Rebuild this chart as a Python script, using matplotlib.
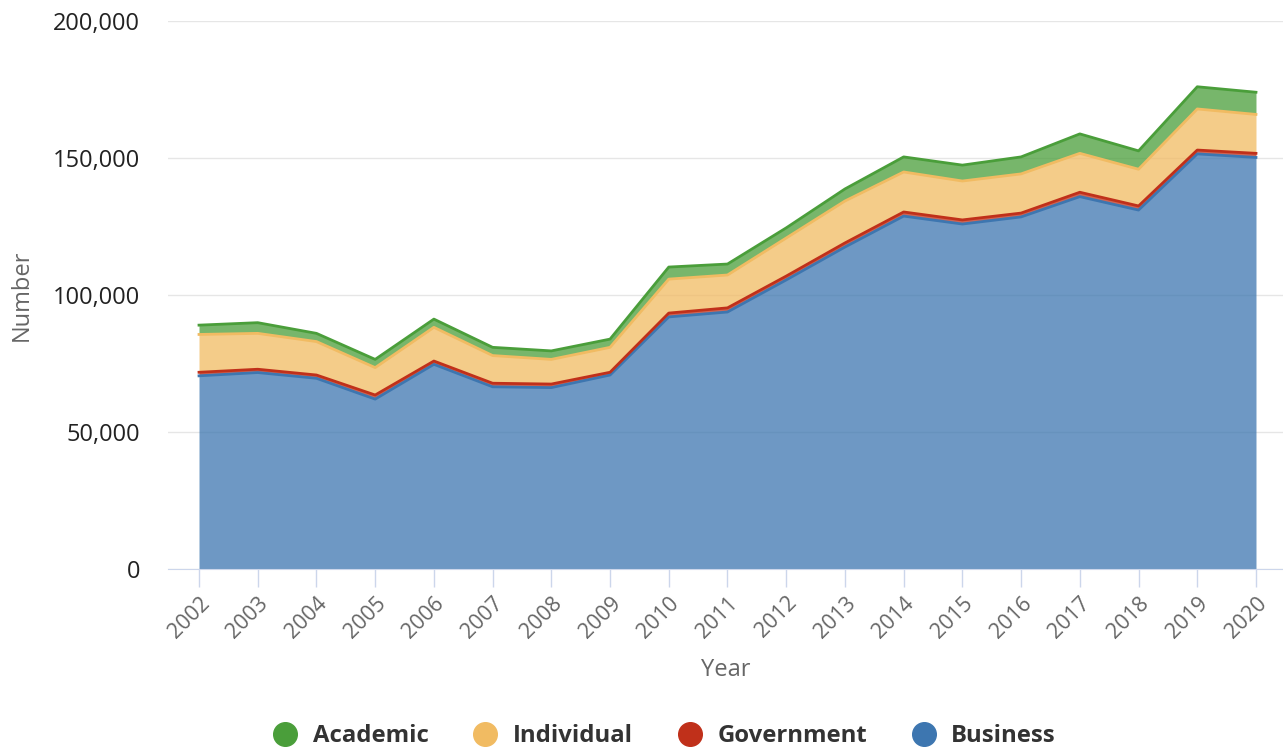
import numpy as np
import matplotlib.pyplot as plt
from matplotlib.lines import Line2D
from matplotlib.ticker import FuncFormatter

plt.rcParams['font.family'] = ['Open Sans', 'DejaVu Sans']

years = np.arange(2002, 2021)
business = [70500, 71700, 69600, 62000, 74700, 66500, 66200, 70800, 92000, 93800,
            105500, 117500, 128800, 125900, 128500, 135900, 131000, 151500, 150200]
government = [1300, 1200, 1200, 1500, 1200, 1300, 1300, 1000, 1400, 1500,
              1400, 1500, 1500, 1500, 1400, 1600, 1500, 1400, 1500]
individual = [13800, 13100, 12200, 10000, 12300, 10100, 9000, 9100, 12400, 12000,
              13900, 15300, 14600, 14200, 14300, 14200, 13400, 15000, 14200]
academic = [3400, 3900, 3000, 3000, 3000, 3000, 3100, 3000, 4400, 4000,
            3700, 4400, 5500, 5800, 6200, 7100, 6700, 8100, 8100]

names = ['Business', 'Government', 'Individual', 'Academic']
colors = ['#3d76b0', '#c0301a', '#f1bb62', '#4a9e3a']

fig = plt.figure(figsize=(12.83, 7.51), dpi=100)
ax = fig.add_axes([168/1283, 182/751, 1115/1283, 548/751])

# stacked areas, bottom series first
base = np.zeros(len(years))
tops = []
for vals, c in zip([business, government, individual, academic], colors):
    top = base + np.array(vals)
    ax.fill_between(years, base, top, color=c, alpha=0.75, lw=0, zorder=2)
    tops.append(top)
    base = top
for top, c in zip(tops, colors):
    ax.plot(years, top, color=c, lw=2, zorder=3)

ax.set_xlim(2001.472, 2020.46)
ax.set_ylim(0, 200000)
ax.set_yticks([0, 50000, 100000, 150000, 200000])
ax.yaxis.set_major_formatter(FuncFormatter(lambda v, p: f'{int(v):,}'))
ax.set_xticks(years)
ax.set_xticklabels([str(y) for y in years], rotation=45, ha='right',
                   va='top', rotation_mode='anchor', color='#666666', fontsize=15.5)

ax.grid(axis='y', color='#e6e6e6', lw=1)
ax.set_axisbelow(True)
for s in ['top', 'right', 'left']:
    ax.spines[s].set_visible(False)
ax.spines['bottom'].set_color('#ccd6eb')
ax.spines['bottom'].set_zorder(4)
ax.tick_params(axis='y', length=0, pad=20, labelsize=17, labelcolor='#222222')
ax.tick_params(axis='x', length=13, width=1, color='#ccd6eb', pad=4)

ax.set_xlabel('Year', fontsize=17, color='#666666', labelpad=11)
ax.set_ylabel('Number', fontsize=17, color='#666666', labelpad=14)

handles = [Line2D([], [], marker='o', ls='', markersize=17, color=c)
           for c in colors[::-1]]
fig.legend(handles, names[::-1], loc='center', bbox_to_anchor=(0.518, 1 - 736/751),
           ncol=4, frameon=False, handlelength=1.0, handletextpad=0.65,
           columnspacing=1.88, prop={'weight': 'bold', 'size': 17.2},
           labelcolor='#333333')

fig.savefig('out.png', dpi=100)
